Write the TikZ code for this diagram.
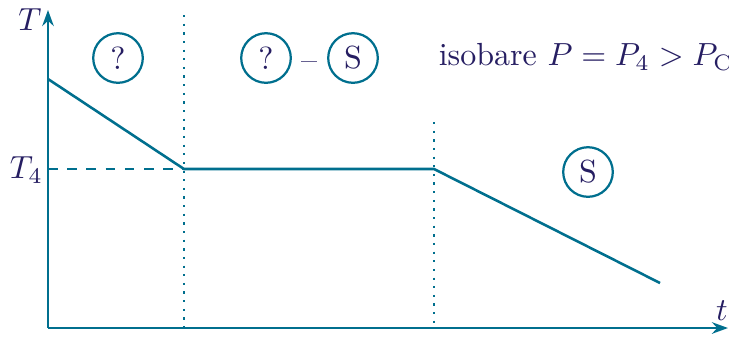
\documentclass[tikz,border=0pt]{standalone}
\usetikzlibrary{arrows.meta}
\definecolor{lineB}{HTML}{006F8E}
\definecolor{ink}{HTML}{261E62}
\tikzset{phase/.style={draw=lineB,circle,line width=.7pt,minimum size=15.5pt,inner sep=0pt,text=ink}}

\begin{document}
\begin{tikzpicture}[x=0.3125pt,y=-0.3125pt,every node/.style={inner sep=0pt,outer sep=0pt,text=ink}]
\path[use as bounding box] (0,0) rectangle (729,336);
% ---------- axes
\coordinate (O) at (48,328);
\coordinate (ytop) at (48,10);
\coordinate (xend) at (728,328);
\draw[lineB,line width=.8pt,-{Stealth[length=5pt,width=3.6pt]}] (O) -- (ytop);
\draw[lineB,line width=.8pt,-{Stealth[length=5pt,width=3.6pt]}] (O) -- (xend);
\node (Tlab) at (30,20) {$T$};
\node (tlab) at (722,311) {$t$};
% ---------- isobar
\coordinate (a) at (48,79);
\coordinate (b) at (184,169);
\coordinate (c) at (434,169);
\coordinate (d) at (660,283);
\coordinate (T4pt) at (48,169);
\draw[lineB,line width=.8pt] (a) -- (b) -- (c) -- (d);
\draw[lineB,line width=.7pt,dashed] (T4pt) -- (b);
\node[anchor=east] (T4) at (43,170) {$T_4$};
% ---------- phase limits
\coordinate (b1) at (184,15);
\coordinate (b2) at (184,328);
\coordinate (c1) at (434,122);
\coordinate (c2) at (434,328);
\draw[lineB,line width=.7pt,dotted] (b1) -- (b2) (c1) -- (c2);
% ---------- phases
\node[phase] (q1) at (118,58) {?};
\node[phase] (q2) at (266,58) {?};
\node (dash) at (309,66) {--};
\node[phase] (s1) at (353,58) {S};
\node[phase] (s2) at (588,172) {S};
\node (iso) at (586,57) {isobare $P=P_4>P_{\mathrm{C}}$};
\end{tikzpicture}
\end{document}
